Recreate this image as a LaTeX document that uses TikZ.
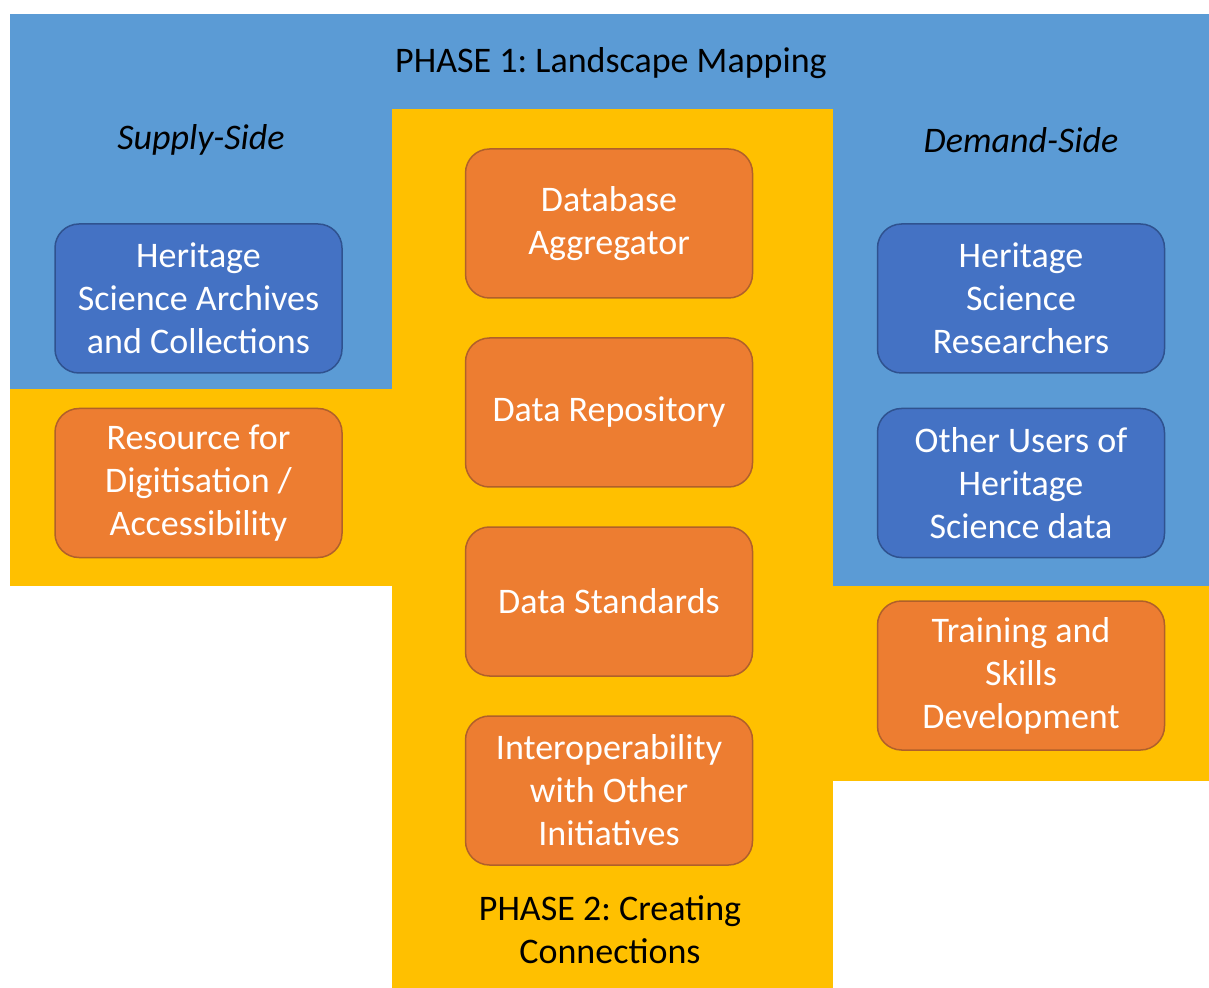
\documentclass[tikz,border=0pt]{standalone}
\usepackage{fontspec}
\setmainfont{Carlito}
\frenchspacing
\definecolor{phaseblue}{HTML}{5B9BD5}
\definecolor{phaseyellow}{HTML}{FFC000}
\definecolor{boxorange}{HTML}{ED7D31}
\definecolor{boxblue}{HTML}{4472C4}
\definecolor{edgeorange}{HTML}{B0602A}
\definecolor{edgeblue}{HTML}{2F528F}
\tikzset{
  txt/.style={font=\fontsize{18}{21.5}\selectfont, align=center, text=black},
  card/.style={rounded corners=12pt, minimum width=143.5pt, minimum height=74.5pt,
    inner sep=0pt, line width=0.75pt, align=center, text=white,
    font=\fontsize{18}{21.5}\selectfont},
  orangecard/.style={card, fill=boxorange, draw=edgeorange},
  bluecard/.style={card, fill=boxblue, draw=edgeblue},
}
\begin{document}
\begin{tikzpicture}[x=0.5pt,y=-0.5pt]
\useasboundingbox[fill=white] (0,0) rectangle (1209,988);
% phase 1 (blue)
\fill[phaseblue] (10,14) rectangle (1209,389);
\fill[phaseblue] (833,14) rectangle (1209,586);
% phase 2 (yellow)
\fill[phaseyellow] (392,109) rectangle (833,988);
\fill[phaseyellow] (10,389) rectangle (392,586);
\fill[phaseyellow] (833,586) rectangle (1209,781);
% labels
\node[txt] (p1) at (611,63) {PHASE 1: Landscape Mapping};
\node[txt, font=\fontsize{18}{21.5}\selectfont\itshape] (supply) at (201,140) {Supply-Side};
\node[txt, font=\fontsize{18}{21.5}\selectfont\itshape] (demand) at (1021,140) {Demand-Side};
\node[txt] (p2) at (610,930) {PHASE 2: Creating\\Connections};
% left column
\node[bluecard] (hsac) at (198.5,298.5) {Heritage\\Science Archives\\and Collections};
\node[orangecard] (rda) at (198.5,483) {Resource for\\Digitisation /\\Accessibility};
% centre column
\node[orangecard] (dba) at (609,223.5) {Database\\Aggregator};
\node[orangecard] (drep) at (609,412.5) {Data Repository};
\node[orangecard] (dstd) at (609,601.5) {Data Standards};
\node[orangecard] (interop) at (609,790.5) {Interoperability\\with Other\\Initiatives};
% right column
\node[bluecard] (hsr) at (1021,298.5) {Heritage\\Science\\Researchers};
\node[bluecard] (ouh) at (1021,483) {Other Users of\\Heritage\\Science data};
\node[orangecard] (tsd) at (1021,675.5) {Training and\\Skills\\Development};
\end{tikzpicture}
\end{document}
